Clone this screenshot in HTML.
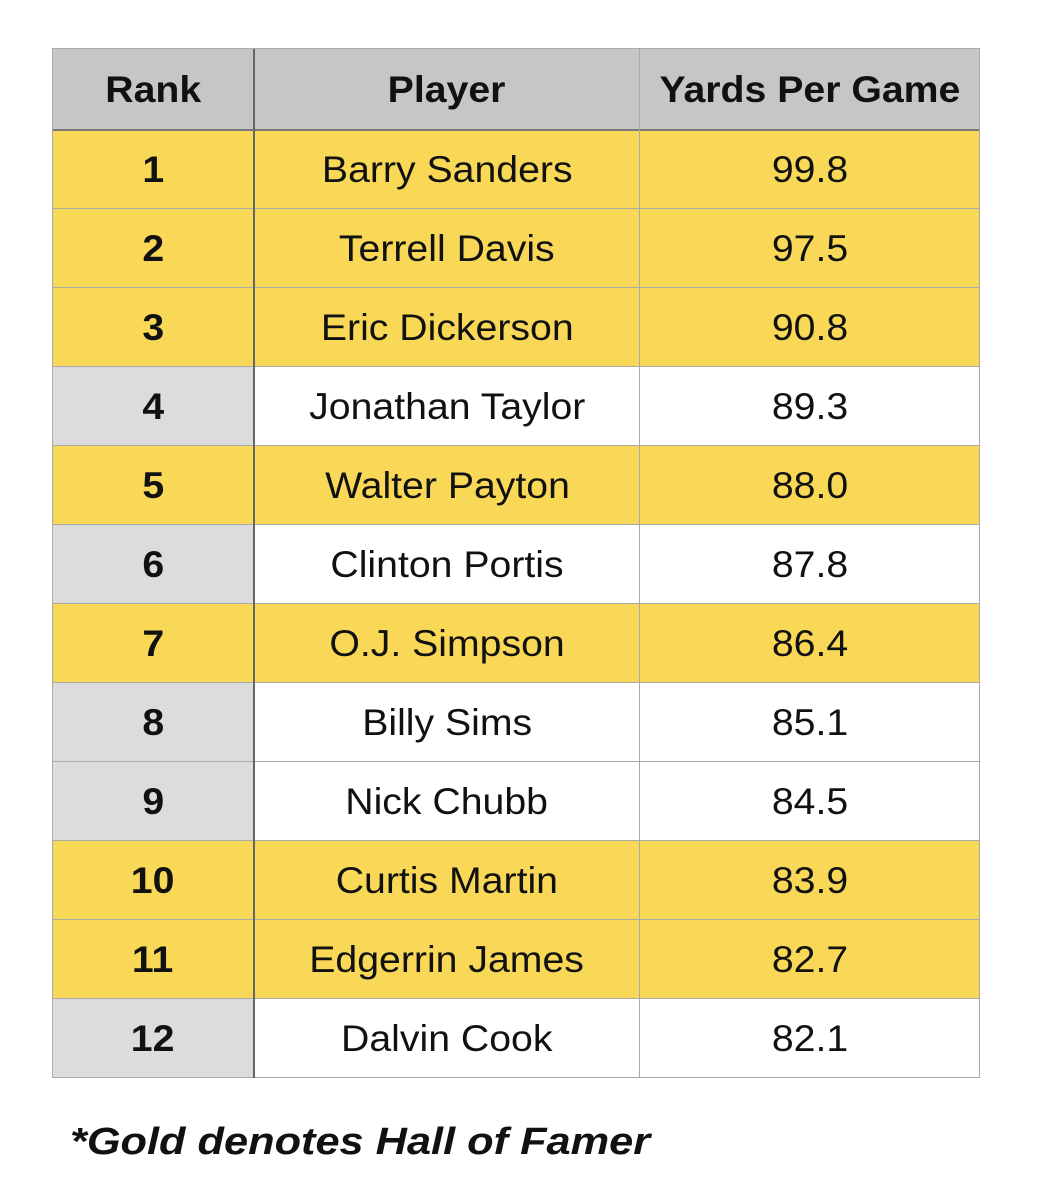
<!DOCTYPE html>
<html><head><style>
body{margin:0;width:1045px;height:1200px;background:#fff;position:relative;font-family:"Liberation Sans",Arial,sans-serif;overflow:hidden}
.c{position:absolute;box-sizing:border-box;display:flex;align-items:center;justify-content:center;font-size:37px;color:#111}
.c span{display:inline-block;transform:scaleX(1.06)}
.h{background:#c5c6c6;font-weight:bold}
.g{background:#f8d856}
.w{background:#fff}
.gr{background:#dcdcdc}
.b{font-weight:bold}
</style></head><body>
<div id="t"></div>
<div style="position:absolute;left:70px;top:1121px;font-size:38px;font-weight:bold;font-style:italic;color:#111;transform:scaleX(1.14);transform-origin:left center;white-space:nowrap">*Gold denotes Hall of Famer</div>
<script>
const rows=[["1","Barry Sanders","99.8",1],["2","Terrell Davis","97.5",1],["3","Eric Dickerson","90.8",1],["4","Jonathan Taylor","89.3",0],["5","Walter Payton","88.0",1],["6","Clinton Portis","87.8",0],["7","O.J. Simpson","86.4",1],["8","Billy Sims","85.1",0],["9","Nick Chubb","84.5",0],["10","Curtis Martin","83.9",1],["11","Edgerrin James","82.7",1],["12","Dalvin Cook","82.1",0]];
const xs=[52,254,640,980];let h="";
function cell(x0,x1,y0,y1,cls,txt){h+=`<div class="c ${cls}" style="left:${x0}px;top:${y0}px;width:${x1-x0}px;height:${y1-y0}px"><span>${txt}</span></div>`}
["Rank","Player","Yards Per Game"].forEach((t,i)=>cell(xs[i],xs[i+1],49,130,"h",t));
rows.forEach((r,k)=>{const y0=130+k*79,y1=y0+79;
cell(52,254,y0,y1,(r[3]?"g":"gr")+" b",r[0]);
cell(254,640,y0,y1,r[3]?"g":"w",r[1]);
cell(640,980,y0,y1,r[3]?"g":"w",r[2]);});
for(let k=0;k<=13;k++){const y=k==0?49:130+(k-1)*79;h+=`<div style="position:absolute;left:52px;top:${y-1}px;width:928px;height:${k==1?2:1}px;background:${k==1?'#777':'#aaa'}"></div>`}
h+=`<div style="position:absolute;left:52px;top:49px;width:1px;height:1029px;background:#aaa"></div>`;
h+=`<div style="position:absolute;left:253px;top:49px;width:2px;height:1029px;background:#666"></div>`;
h+=`<div style="position:absolute;left:639px;top:49px;width:1px;height:1029px;background:#aaa"></div>`;
h+=`<div style="position:absolute;left:979px;top:49px;width:1px;height:1029px;background:#aaa"></div>`;
document.getElementById("t").innerHTML=h;
</script>
</body></html>
